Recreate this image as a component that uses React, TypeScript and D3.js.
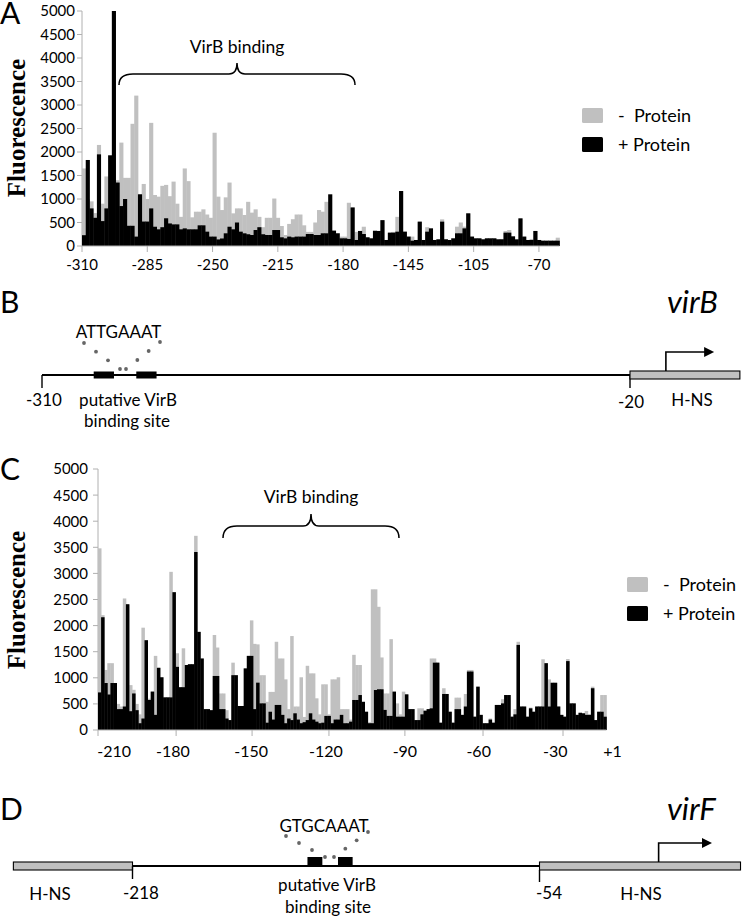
import React from "react";
import * as d3 from "d3";

const FONT = "Lato, 'Open Sans', sans-serif";
const SERIF = "'Liberation Serif', 'DejaVu Serif', serif";
const GREY = "#c0c0c0";
const AXIS = "#b0b0b0";

const yTickValues = [0, 500, 1000, 1500, 2000, 2500, 3000, 3500, 4000, 4500, 5000];

// Panel A (virB promoter)
const aTickLabels = ["-310", "-285", "-250", "-215", "-180", "-145", "-105", "-70"];
const aTickIdx = [0, 17.5, 35, 52.5, 70, 87.5, 105, 122.5];
const aMinus = [
  1650, 1000, 950, 700, 2150, 900, 1480, 1200, 1400, 1400,
  2200, 1450, 1450, 2600, 3200, 1100, 1320, 1000, 2620, 1085,
  1050, 1280, 1300, 1060, 1370, 900, 620, 1650, 1380, 610,
  730, 730, 780, 670, 600, 2410, 1050, 765, 1035, 1350,
  695, 800, 800, 660, 940, 710, 780, 620, 400, 600,
  600, 1010, 600, 425, 234, 470, 570, 670, 670, 440,
  300, 300, 500, 765, 730, 940, 300, 330, 270, 200,
  200, 920, 820, 300, 320, 410, 185, 163, 340, 320,
  550, 128, 284, 300, 620, 1170, 305, 200, 200, 128,
  518, 128, 400, 375, 128, 142, 567, 142, 128, 163,
  411, 500, 412, 695, 200, 163, 163, 142, 163, 163,
  163, 142, 150, 320, 340, 205, 150, 588, 200, 128,
  150, 320, 128, 113, 113, 113, 113, 177,
];
const aPlus = [
  230, 1830, 800, 600, 1950, 530, 800, 1930, 5000, 1350,
  850, 1000, 430, 430, 200, 1100, 520, 520, 800, 410,
  355, 400, 590, 480, 460, 460, 355, 375, 355, 355,
  355, 440, 440, 305, 200, 200, 140, 160, 270, 410,
  355, 500, 305, 270, 250, 234, 340, 400, 250, 234,
  234, 340, 340, 185, 163, 200, 185, 200, 200, 200,
  255, 255, 234, 234, 270, 270, 1100, 326, 270, 163,
  163, 150, 820, 128, 320, 255, 185, 163, 320, 320,
  550, 128, 284, 284, 305, 1170, 305, 200, 113, 128,
  518, 128, 305, 375, 128, 142, 518, 142, 128, 163,
  270, 270, 375, 695, 200, 163, 163, 142, 163, 163,
  163, 142, 142, 284, 284, 205, 140, 588, 200, 128,
  128, 320, 128, 113, 113, 113, 113, 113,
];

// Panel C (virF promoter)
const cTickLabels = ["-210", "-180", "-150", "-120", "-90", "-60", "-30", "+1"];
const cTickIdx = [0, 25.2, 49.7, 74.5, 99, 124.2, 150];
const cLabelIdx = [5.2, 24.2, 49.4, 73.5, 99, 122.8, 147.5, 166];
const cMinus = [
  3480, 2200, 1150, 1280, 1280, 600, 500, 450, 2520, 2400,
  860, 770, 500, 300, 1960, 1720, 600, 740, 1420, 1200,
  1010, 630, 630, 3030, 2640, 1470, 820, 1565, 1245, 1260,
  1260, 3720, 1880, 1370, 400, 400, 380, 1820, 1580, 700,
  700, 380, 190, 1290, 1050, 460, 460, 1180, 1420, 2100,
  1650, 1640, 1050, 1050, 540, 730, 730, 1690, 1370, 1370,
  970, 400, 1800, 450, 450, 1010, 250, 1230, 1085, 1085,
  607, 300, 875, 875, 300, 970, 970, 1010, 400, 400,
  400, 200, 1440, 1245, 1245, 540, 350, 150, 2695, 2695,
  2360, 1390, 700, 700, 1740, 735, 510, 300, 735, 683,
  400, 400, 190, 415, 415, 370, 400, 1370, 1370, 1290,
  140, 800, 690, 350, 140, 620, 620, 290, 690, 1150,
  1150, 255, 830, 290, 130, 130, 220, 140, 480, 480,
  590, 670, 670, 255, 400, 1690, 450, 450, 255, 430,
  350, 450, 450, 1355, 1280, 970, 905, 905, 450, 290,
  255, 1360, 510, 510, 290, 330, 320, 365, 300, 830,
  190, 350, 670, 670,
];
const cPlus = [
  720, 2160, 900, 680, 900, 900, 400, 400, 450, 2410,
  360, 700, 380, 130, 220, 1720, 575, 735, 290, 1190,
  1010, 625, 625, 625, 2640, 1210, 820, 820, 1245, 1260,
  1260, 3410, 1880, 1370, 400, 400, 380, 1035, 1035, 400,
  400, 220, 190, 1050, 1050, 460, 460, 1180, 1420, 1420,
  400, 907, 510, 510, 140, 350, 200, 480, 480, 290,
  130, 220, 190, 320, 200, 130, 150, 190, 320, 200,
  160, 130, 140, 270, 270, 130, 200, 200, 290, 130,
  130, 160, 575, 575, 670, 540, 350, 130, 130, 766,
  780, 780, 385, 270, 270, 735, 255, 255, 255, 683,
  400, 400, 190, 190, 300, 370, 400, 415, 1290, 1290,
  140, 690, 690, 350, 140, 400, 400, 290, 450, 1120,
  1120, 255, 830, 290, 130, 130, 200, 140, 480, 480,
  510, 670, 670, 255, 300, 1630, 450, 450, 255, 415,
  350, 450, 450, 450, 1280, 450, 905, 905, 450, 290,
  255, 1320, 510, 510, 290, 330, 320, 290, 290, 800,
  190, 350, 350, 255,
];

// Gene diagram features (bp coordinates)
const bSites: [number, number][] = [[-284.5, -274.5], [-263.5, -253.5]];
const dSites: [number, number][] = [[-147.5, -141.5], [-135.2, -129.3]];

function bracePath(x0: number, x1: number, xm: number, yEnd: number, yH: number, yPeak: number) {
  const r = 14;
  const b = 8;
  return `M${x0},${yEnd} Q${x0},${yH} ${x0 + r},${yH} L${xm - b},${yH} Q${xm},${yH} ${xm},${yPeak} Q${xm},${yH} ${xm + b},${yH} L${x1 - r},${yH} Q${x1},${yH} ${x1},${yEnd}`;
}

type PanelProps = {
  minus: number[];
  plus: number[];
  x0: number;
  barW: number;
  yBase: number;
  yTop: number;
  tickIdx: number[];
  labelIdx: number[];
  labels: string[];
  labelBaseline: number;
  labelSize: number;
  yLabelRight: number;
  fluorCenterY: number;
  letter: string;
  letterBaseline: number;
  brace: { x0: number; x1: number; yEnd: number; yH: number; yPeak: number; textBaseline: number };
  legend: { x: number; y: number; textX: number };
};

function BarPanel(p: PanelProps) {
  const n = p.minus.length;
  const x = d3.scaleLinear().domain([0, n]).range([p.x0, p.x0 + n * p.barW]);
  const y = d3.scaleLinear().domain([0, 5000]).range([p.yBase, p.yTop]);
  const w = x(1) - x(0);
  const xm = (p.brace.x0 + p.brace.x1) / 2;
  return (
    <g>
      <text x={0} y={p.letterBaseline} fontFamily={FONT} fontSize={30}>{p.letter}</text>
      <text
        transform={`translate(25,${p.fluorCenterY}) rotate(-90)`}
        textAnchor="middle"
        fontFamily={SERIF}
        fontWeight="bold"
        fontSize={25}
      >Fluorescence</text>
      {/* y axis */}
      <line x1={p.x0} x2={p.x0} y1={y(0)} y2={y(5000)} stroke={AXIS} strokeWidth={1} />
      {yTickValues.map((v) => (
        <g key={v}>
          <line x1={p.x0 - 5} x2={p.x0} y1={y(v)} y2={y(v)} stroke={AXIS} strokeWidth={1} />
          <text x={p.yLabelRight} y={y(v)} dy="0.36em" textAnchor="end" fontFamily={FONT} fontSize={15}>{v}</text>
        </g>
      ))}
      {/* bars */}
      {p.minus.map((v, i) => (
        <rect key={"m" + i} x={x(i)} width={w + 0.4} y={y(v)} height={y(0) - y(v)} fill={GREY} />
      ))}
      {p.plus.map((v, i) => (
        <rect key={"p" + i} x={x(i)} width={w + 0.4} y={y(v)} height={y(0) - y(v)} fill="#000" />
      ))}
      {/* x axis */}
      <line x1={p.x0} x2={x(n)} y1={y(0)} y2={y(0)} stroke={AXIS} strokeWidth={1} />
      {p.tickIdx.map((t, i) => (
        <line key={"t" + i} x1={x(t)} x2={x(t)} y1={y(0)} y2={y(0) + 6} stroke={AXIS} strokeWidth={1} />
      ))}
      {p.labels.map((l, i) => (
        <text key={"l" + i} x={x(p.labelIdx[i])} y={p.labelBaseline} textAnchor="middle" fontFamily={FONT} fontSize={p.labelSize}>{l}</text>
      ))}
      {/* brace */}
      <path
        d={bracePath(p.brace.x0, p.brace.x1, xm, p.brace.yEnd, p.brace.yH, p.brace.yPeak)}
        fill="none"
        stroke="#000"
        strokeWidth={1.5}
      />
      <text x={xm} y={p.brace.textBaseline} textAnchor="middle" fontFamily={FONT} fontSize={17.5}>VirB binding</text>
      {/* legend */}
      <rect x={p.legend.x} y={p.legend.y} width={21} height={15} rx={1.5} fill={GREY} />
      <rect x={p.legend.x} y={p.legend.y + 29} width={21} height={15} rx={1.5} fill="#000" />
      <text x={p.legend.textX} y={p.legend.y + 7.5} dy="0.36em" fontFamily={FONT} fontSize={18} xmlSpace="preserve">-  Protein</text>
      <text x={p.legend.textX} y={p.legend.y + 36.5} dy="0.36em" fontFamily={FONT} fontSize={18}>+ Protein</text>
    </g>
  );
}

function Dots({ x1, y1, x2, y2 }: { x1: number; y1: number; x2: number; y2: number }) {
  const pts = d3.range(4).map((k) => [x1 + ((x2 - x1) * k) / 3, y1 + ((y2 - y1) * k) / 3]);
  return (
    <g>
      {pts.map((pt, i) => (
        <circle key={i} cx={pt[0]} cy={pt[1]} r={1.9} fill="#666" />
      ))}
    </g>
  );
}

function Arrow({ x, yFrom, yTo, xEnd }: { x: number; yFrom: number; yTo: number; xEnd: number }) {
  return (
    <g>
      <path d={`M${x},${yFrom} V${yTo} H${xEnd - 8}`} fill="none" stroke="#000" strokeWidth={1.6} />
      <path d={`M${xEnd - 10},${yTo - 5} L${xEnd},${yTo} L${xEnd - 10},${yTo + 5} Z`} fill="#000" />
    </g>
  );
}

function PanelB() {
  const s = d3.scaleLinear().domain([-310, -20]).range([42, 630]);
  const ly = 375;
  return (
    <g fontFamily={FONT}>
      <text x={0} y={313} fontSize={30}>B</text>
      <text x={667} y={313} fontSize={31} fontStyle="italic">virB</text>
      <text x={118.5} y={338} fontSize={17} textAnchor="middle">ATTGAAAT</text>
      <Dots x1={84} y1={343} x2={120} y2={369} />
      <Dots x1={160} y1={342} x2={126} y2={369} />
      <line x1={s(-310)} x2={s(-20)} y1={ly} y2={ly} stroke="#000" strokeWidth={2} />
      {bSites.map((b, i) => (
        <rect key={i} x={s(b[0])} width={s(b[1]) - s(b[0])} y={ly - 3.5} height={7} fill="#000" />
      ))}
      <line x1={s(-310)} x2={s(-310)} y1={ly} y2={ly + 13} stroke="#000" strokeWidth={1.4} />
      <line x1={s(-20)} x2={s(-20)} y1={ly} y2={ly + 13} stroke="#000" strokeWidth={1.4} />
      <rect x={s(-20)} y={ly - 4} width={s(34.2) - s(-20)} height={8} fill={GREY} stroke="#000" strokeWidth={1.1} />
      <Arrow x={s(-2.3)} yFrom={ly - 4} yTo={352} xEnd={s(21.5)} />
      <text x={44} y={406} fontSize={17} textAnchor="middle">-310</text>
      <text x={128} y={406} fontSize={17} textAnchor="middle">putative VirB</text>
      <text x={127} y={427} fontSize={17} textAnchor="middle">binding site</text>
      <text x={631} y={408} fontSize={17} textAnchor="middle">-20</text>
      <text x={692} y={406} fontSize={17} textAnchor="middle">H-NS</text>
    </g>
  );
}

function PanelD() {
  const s = d3.scaleLinear().domain([-218, -54]).range([132.5, 539.5]);
  const ly = 866;
  return (
    <g fontFamily={FONT}>
      <text x={0} y={820} fontSize={30}>D</text>
      <text x={667} y={820} fontSize={31} fontStyle="italic">virF</text>
      <text x={324} y={832} fontSize={17} textAnchor="middle">GTGCAAAT</text>
      <Dots x1={286} y1={836} x2={325} y2={857} />
      <Dots x1={368} y1={832} x2={334} y2={857} />
      <line x1={s(-218)} x2={s(-54)} y1={ly} y2={ly} stroke="#000" strokeWidth={2} />
      {dSites.map((b, i) => (
        <rect key={i} x={s(b[0])} width={s(b[1]) - s(b[0])} y={ly - 9} height={9} fill="#000" />
      ))}
      <rect x={s(-266)} y={ly - 4} width={s(-218) - s(-266)} height={8} fill={GREY} stroke="#000" strokeWidth={1.1} />
      <rect x={s(-54)} y={ly - 4} width={s(27) - s(-54)} height={8} fill={GREY} stroke="#000" strokeWidth={1.1} />
      <line x1={s(-218)} x2={s(-218)} y1={ly} y2={ly + 13} stroke="#000" strokeWidth={1.4} />
      <line x1={s(-54)} x2={s(-54)} y1={ly + 4} y2={ly + 16} stroke="#000" strokeWidth={1.4} />
      <Arrow x={s(-6)} yFrom={ly - 4} yTo={843} xEnd={s(15.5)} />
      <text x={50} y={900} fontSize={17} textAnchor="middle">H-NS</text>
      <text x={141} y={899} fontSize={17} textAnchor="middle">-218</text>
      <text x={327} y={891} fontSize={17} textAnchor="middle">putative VirB</text>
      <text x={328} y={913} fontSize={17} textAnchor="middle">binding site</text>
      <text x={549} y={899} fontSize={17} textAnchor="middle">-54</text>
      <text x={641} y={900} fontSize={17} textAnchor="middle">H-NS</text>
    </g>
  );
}

export default function App() {
  return (
    <div style={{ position: "absolute", left: 0, top: 0 }}>
      <style>{"body{margin:0}"}</style>
      <svg width={742} height={920} viewBox="0 0 742 920" style={{ display: "block", background: "#fff" }}>
        <BarPanel
          minus={aMinus}
          plus={aPlus}
          x0={82}
          barW={3.73}
          yBase={246}
          yTop={11}
          tickIdx={aTickIdx}
          labelIdx={aTickIdx}
          labels={aTickLabels}
          labelBaseline={270}
          labelSize={15}
          yLabelRight={75}
          fluorCenterY={128}
          letter="A"
          letterBaseline={24}
          brace={{ x0: 119, x1: 355, yEnd: 85, yH: 74, yPeak: 63, textBaseline: 53 }}
          legend={{ x: 582, y: 108, textX: 618 }}
        />
        <PanelB />
        <BarPanel
          minus={cMinus}
          plus={cPlus}
          x0={98}
          barW={3.1}
          yBase={730}
          yTop={469}
          tickIdx={cTickIdx}
          labelIdx={cLabelIdx}
          labels={cTickLabels}
          labelBaseline={757}
          labelSize={16}
          yLabelRight={88}
          fluorCenterY={600}
          letter="C"
          letterBaseline={480}
          brace={{ x0: 223, x1: 399, yEnd: 538, yH: 526, yPeak: 514, textBaseline: 503 }}
          legend={{ x: 627, y: 577, textX: 663 }}
        />
        <PanelD />
      </svg>
    </div>
  );
}
